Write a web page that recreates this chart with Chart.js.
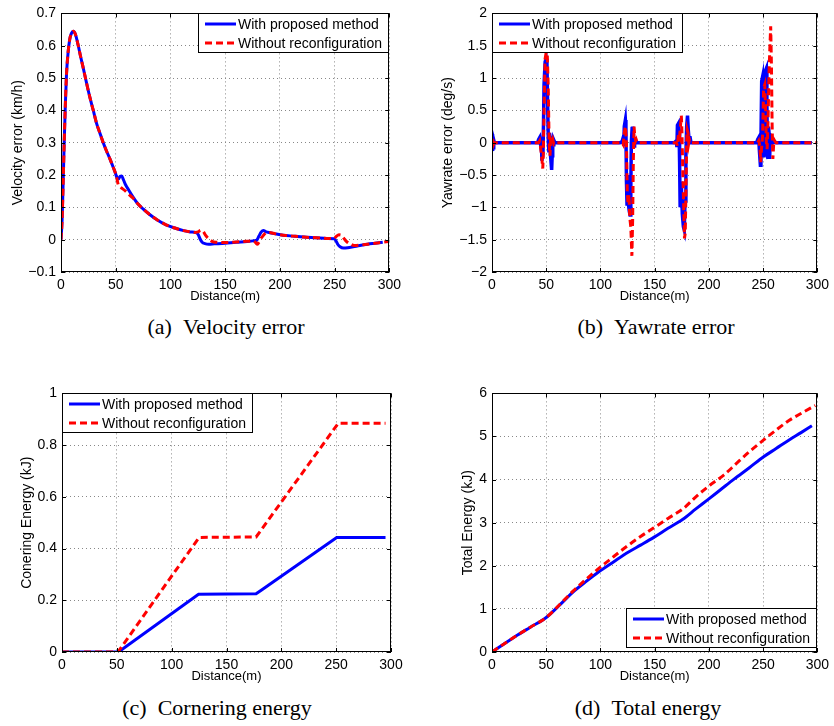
<!DOCTYPE html>
<html>
<head>
<meta charset="utf-8">
<script src="https://cdn.jsdelivr.net/npm/chart.js@4.4.1/dist/chart.umd.min.js"></script>
<style>
  body { margin: 0; background: #fff; width: 834px; height: 726px; position: relative; overflow: hidden; }
  canvas { position: absolute; }
  .cap {
    position: absolute; white-space: nowrap; transform: translateX(-50%);
    font-family: "Liberation Serif", "Times New Roman", serif; font-size: 22px; line-height: 24px; color: #000;
  }
</style>
</head>
<body>
<canvas id="velChart" width="400" height="308" style="left:6px;top:0"></canvas>
<canvas id="yawChart" width="398" height="308" style="left:436px;top:0"></canvas>
<canvas id="corChart" width="400" height="308" style="left:15px;top:380px"></canvas>
<canvas id="totChart" width="378" height="308" style="left:456px;top:380px"></canvas>

<div class="cap" style="left:226px;top:315px">(a)&ensp;Velocity error</div>
<div class="cap" style="left:656px;top:315px">(b)&ensp;Yawrate error</div>
<div class="cap" style="left:217px;top:696px">(c)&ensp;Cornering energy</div>
<div class="cap" style="left:648px;top:696px">(d)&ensp;Total energy</div>

<script>
// legend names
const seriesNames = ["With proposed method", "Without reconfiguration"];
const distTicks = [0, 50, 100, 150, 200, 250, 300];

// (a) velocity error
const velDistBlue = [0, 1, 2, 3, 4, 5, 6.5, 8, 9.5, 11.2, 13, 15.8, 18, 20.4, 23, 26.4, 29.5, 32.5, 35.5, 38.6, 41.5, 44.7, 47, 49.3, 51, 52.5, 54, 55.5, 57, 59, 62, 66, 70, 75, 81, 88, 96, 104, 112, 118, 124, 125.5, 127, 129, 131.5, 135, 140, 150, 160, 170, 177, 179, 181, 183, 185, 187, 190, 196, 203, 212, 222, 233, 243, 249.5, 251, 253, 255, 258, 262, 267, 273, 280, 287, 294];
const velErrBlue = [0, 0.06, 0.18, 0.31, 0.42, 0.51, 0.58, 0.62, 0.638, 0.645, 0.637, 0.6, 0.565, 0.53, 0.49, 0.44, 0.4, 0.36, 0.33, 0.3, 0.275, 0.25, 0.23, 0.21, 0.193, 0.188, 0.196, 0.197, 0.186, 0.17, 0.153, 0.131, 0.112, 0.095, 0.078, 0.061, 0.046, 0.036, 0.028, 0.024, 0.021, 0.015, 0.003, -0.008, -0.012, -0.014, -0.013, -0.011, -0.008, -0.006, -0.003, -0.001, 0.012, 0.024, 0.028, 0.025, 0.022, 0.018, 0.014, 0.011, 0.008, 0.006, 0.004, 0.003, -0.002, -0.015, -0.022, -0.026, -0.025, -0.022, -0.018, -0.014, -0.011, -0.008];
const velDistRed = [0, 1, 2, 3, 4, 5, 6.5, 8, 9.5, 11.2, 13, 15.8, 18, 20.4, 23, 26.4, 29.5, 32.5, 35.5, 38.6, 41.5, 44.7, 47, 49.3, 51, 52.3, 54, 56, 59, 62, 66, 70, 75, 81, 88, 96, 104, 112, 118, 122, 125, 128, 130, 132, 134.5, 138, 142, 150, 160, 170, 176, 178, 179.5, 181, 183, 185, 187.5, 190, 196, 203, 212, 222, 233, 243, 249.5, 251.5, 254, 256, 258.5, 261, 264, 268, 273, 280, 287, 294, 299];
const velErrRed = [0, 0.06, 0.18, 0.31, 0.42, 0.51, 0.58, 0.62, 0.638, 0.645, 0.637, 0.6, 0.565, 0.53, 0.49, 0.44, 0.4, 0.36, 0.33, 0.3, 0.275, 0.25, 0.23, 0.21, 0.19, 0.17, 0.163, 0.158, 0.15, 0.14, 0.128, 0.112, 0.095, 0.078, 0.061, 0.046, 0.036, 0.028, 0.024, 0.022, 0.024, 0.029, 0.025, 0.014, 0.004, -0.005, -0.008, -0.009, -0.007, -0.005, -0.004, -0.01, -0.014, -0.007, 0.005, 0.014, 0.021, 0.022, 0.018, 0.014, 0.011, 0.008, 0.006, 0.004, 0.003, 0.01, 0.015, 0.014, 0.004, -0.006, -0.013, -0.018, -0.017, -0.014, -0.011, -0.008, -0.006];

// (b) yawrate error
const yawDistBlue = [0, 0.4, 0.8, 1.2, 1.6, 2.2, 42, 43, 44, 45, 45.5, 46, 47, 47.5, 48, 49, 50, 50.7, 51.3, 52, 52.5, 53, 53.5, 54, 55, 55.5, 56, 56.5, 57, 58, 118, 120, 121, 121.5, 122, 123, 123.5, 124, 124.5, 125, 125.5, 126.5, 127.3, 128, 128.5, 129.2, 129.8, 130.5, 131, 131.5, 132, 133, 134, 168, 170, 170.5, 171, 172, 172.5, 173, 173.5, 174.5, 175.5, 176.5, 177.3, 178, 178.8, 179.5, 180.3, 181, 181.7, 182.5, 183.5, 244, 245, 246, 246.5, 247.5, 248, 248.7, 249.3, 249.8, 250.3, 250.8, 251.5, 252.3, 253, 253.5, 254, 254.5, 255, 255.5, 256, 256.5, 257.5, 259, 260, 262, 295];
const yawErrBlue = [0.13, -0.13, 0.1, -0.08, 0.04, 0, 0, 0.05, 0.08, -0.05, 0.06, -0.28, -0.15, 0.3, 0.9, 1.25, 1.3, 1.2, 0.6, 0, -0.15, 0.15, 0.1, -0.2, -0.42, -0.2, 0.05, -0.03, 0.04, 0, 0, 0.02, 0.08, -0.05, 0.25, 0.35, 0.2, -0.6, -0.95, -0.5, -0.9, -1.05, -1.12, -0.7, 0, 0.22, 0.25, 0.1, -0.05, 0.05, 0, 0.02, 0, 0, 0.03, -0.07, 0.27, 0.3, 0.2, -0.3, -1.0, -0.6, -1.1, -1.3, -1.35, -0.9, -0.2, 0.25, 0.42, 0.2, 0.05, 0.1, 0, 0, 0.05, 0.08, -0.1, -0.35, 0, 0.95, 1.0, 0.3, -0.2, 0.8, 1.05, 1.12, 1.15, 0.6, -0.2, -0.25, 0.25, 0.15, -0.25, 0, 0.05, 0, 0.02, 0, 0];
const yawDistRed = [0, 0.4, 0.8, 1.3, 2, 43, 44, 45, 46, 46.8, 47.3, 48, 49, 50, 51, 51.8, 52.5, 53, 53.5, 54, 55, 56, 57, 58, 120, 121, 122, 123, 124, 124.7, 125.5, 126.3, 127, 128, 129, 129.7, 130.3, 131, 131.7, 132.5, 133, 134, 170, 171, 172, 173, 174, 174.6, 175.2, 176, 176.8, 177.5, 178.2, 178.8, 179.5, 180, 180.8, 181.5, 182, 183, 245, 246, 247, 247.8, 248.5, 249.5, 250.5, 251.5, 252.3, 253, 253.7, 254.5, 255.5, 256.3, 257, 257.7, 258.3, 259, 259.5, 260, 261, 262, 300];
const yawErrRed = [0.05, -0.08, 0.06, -0.03, 0, 0, 0.03, -0.1, -0.25, -0.4, -0.2, 0.5, 1.3, 1.4, 1.35, 0.9, 0.2, -0.1, -0.2, 0.05, 0, 0.05, -0.02, 0, 0, -0.03, 0.15, 0.25, 0, -0.75, -0.95, -0.8, -1.15, -1.3, -1.75, -1.2, -0.3, 0.25, 0.1, 0.03, 0.05, 0, 0, -0.05, 0.15, 0.1, 0.3, 0.42, 0.15, -0.5, -1.0, -1.48, -1.4, -0.8, 0, 0.2, 0.15, 0, 0.05, 0, 0, 0.03, -0.05, -0.3, -0.1, 0.1, 0.85, 0.9, 0.5, 0, -0.1, 0.3, 1.1, 1.5, 1.8, 1.2, 0.3, -0.25, -0.1, 0.05, 0.02, 0, 0];

// (c) cornering energy
const corDistBlue = [0, 51.5, 124.5, 177, 182, 250.5, 295];
const corEnergyBlue = [0, 0, 0.223, 0.225, 0.24, 0.443, 0.443];
const corDistRed = [0, 51, 125, 177, 252, 295];
const corEnergyRed = [0, 0, 0.443, 0.445, 0.885, 0.885];

// (d) total energy
const totDistBlue = [0, 10, 21.4, 35, 50, 62, 74.2, 86, 98.5, 112, 125.9, 137, 149.2, 162.3, 176, 188, 198.8, 211, 223.2, 237, 250.5, 262, 274, 285, 295];
const totEnergyBlue = [0, 0.17, 0.36, 0.57, 0.8, 1.08, 1.38, 1.62, 1.86, 2.09, 2.32, 2.48, 2.66, 2.87, 3.08, 3.32, 3.53, 3.77, 4.01, 4.27, 4.53, 4.72, 4.92, 5.09, 5.25];
const totDistRed = [0, 10, 21.4, 35, 50, 62, 74.2, 86, 98.5, 112, 125.9, 137, 149.2, 162.3, 176.5, 188, 200.9, 214, 225.2, 237, 250.5, 262, 273.8, 286, 298.1];
const totEnergyRed = [0, 0.17, 0.36, 0.57, 0.8, 1.09, 1.4, 1.67, 1.94, 2.21, 2.48, 2.68, 2.88, 3.1, 3.33, 3.6, 3.87, 4.11, 4.37, 4.64, 4.92, 5.15, 5.37, 5.55, 5.72];

Chart.defaults.font.family = '"Liberation Sans", Arial, sans-serif';
Chart.defaults.font.size = 14;
Chart.defaults.color = "#000";

function pts(xs, ys) {
  return xs.map((x, i) => ({ x: x, y: ys[i] }));
}

function fmt(v) {
  return String(Math.round(v * 100) / 100).replace("-", "\u2212");
}

// box round the axes, inward ticks, and the boxed legend
const frame = {
  id: "frame",
  afterDatasetsDraw(chart, args, opts) {
    const { ctx, chartArea: a, scales } = chart;
    ctx.save();
    ctx.strokeStyle = "#000";
    ctx.lineWidth = 1;
    ctx.setLineDash([]);
    ctx.strokeRect(Math.round(a.left) + 0.5, Math.round(a.top) + 0.5, Math.round(a.width) - 1, Math.round(a.height) - 1);
    ctx.beginPath();
    scales.x.ticks.forEach(t => {
      const px = Math.round(scales.x.getPixelForValue(t.value)) + 0.5;
      ctx.moveTo(px, a.bottom); ctx.lineTo(px, a.bottom - 4);
      ctx.moveTo(px, a.top); ctx.lineTo(px, a.top + 4);
    });
    scales.y.ticks.forEach(t => {
      const py = Math.round(scales.y.getPixelForValue(t.value)) + 0.5;
      ctx.moveTo(a.left, py); ctx.lineTo(a.left + 4, py);
      ctx.moveTo(a.right, py); ctx.lineTo(a.right - 4, py);
    });
    ctx.stroke();

    // legend
    ctx.font = '14px "Liberation Sans", Arial, sans-serif';
    const ds = chart.data.datasets;
    const tw = Math.max(...ds.map(d => ctx.measureText(d.label).width));
    const w = Math.round(tw + 47), h = 40;
    const x = opts.corner.includes("e") ? Math.round(a.right) - w : Math.round(a.left);
    const y = opts.corner.includes("s") ? Math.round(a.bottom) - 4 - h : Math.round(a.top);
    ctx.fillStyle = "#fff";
    ctx.fillRect(x, y, w, h);
    ctx.strokeRect(x + 0.5, y + 0.5, w - 1, h - 1);
    ds.forEach((d, i) => {
      const ry = y + 11 + i * 19;
      ctx.strokeStyle = d.borderColor;
      ctx.lineWidth = 3;
      ctx.setLineDash(d.borderDash || []);
      ctx.beginPath();
      ctx.moveTo(x + 7, ry); ctx.lineTo(x + 38, ry);
      ctx.stroke();
      ctx.fillStyle = "#000";
      ctx.textBaseline = "middle";
      ctx.fillText(d.label, x + 40, ry + 1);
    });
    ctx.restore();
  }
};

function makeChart(id, cfg) {
  return new Chart(document.getElementById(id), {
    type: "line",
    data: {
      datasets: [
        { label: seriesNames[0], data: pts(cfg.blueX, cfg.blueY), borderColor: "#0000ff", borderWidth: cfg.blueWidth || 3, order: 1 },
        { label: seriesNames[1], data: pts(cfg.redX, cfg.redY), borderColor: "#ff0000", borderWidth: 3, borderDash: [7, 4], order: 0 }
      ]
    },
    options: {
      responsive: false,
      animation: false,
      layout: { padding: cfg.pad },
      elements: {
        point: { radius: 0 },
        line: { cubicInterpolationMode: cfg.smooth ? "monotone" : "default", borderCapStyle: "butt" }
      },
      plugins: { legend: { display: false }, tooltip: { enabled: false }, frame: { corner: cfg.corner } },
      scales: {
        x: {
          type: "linear", min: 0, max: 300,
          afterBuildTicks: s => { s.ticks = distTicks.map(v => ({ value: v })); },
          ticks: { padding: 5, maxRotation: 0, autoSkip: false },
          grid: { color: "#888", drawTicks: false },
          border: { display: false, dash: [1, 3] },
          title: { display: true, text: "Distance(m)", font: { size: 13 }, padding: { top: 0, bottom: 4 } },
          afterFit: s => { s.height = 36; }
        },
        y: {
          min: cfg.yMin, max: cfg.yMax,
          ticks: { stepSize: cfg.yStep, padding: 5, autoSkip: false, callback: fmt },
          grid: { color: "#888", drawTicks: false },
          border: { display: false, dash: [1, 3] },
          title: { display: true, text: cfg.yTitle, font: { size: 14 }, padding: { top: 4, bottom: 0 } },
          afterFit: s => { s.width = cfg.yWidth; }
        }
      }
    },
    plugins: [frame]
  });
}

makeChart("velChart", {
  blueX: velDistBlue, blueY: velErrBlue, redX: velDistRed, redY: velErrRed,
  yMin: -0.1, yMax: 0.7, yStep: 0.1, yTitle: "Velocity error (km/h)",
  yWidth: 55, pad: { left: 0, top: 12, right: 16, bottom: 0 }, corner: "ne", smooth: true
});
makeChart("yawChart", {
  blueX: yawDistBlue, blueY: yawErrBlue, redX: yawDistRed, redY: yawErrRed,
  yMin: -2, yMax: 2, yStep: 0.5, yTitle: "Yawrate error (deg/s)",
  yWidth: 56, pad: { left: 0, top: 13, right: 13, bottom: 0 }, corner: "nw", smooth: false, blueWidth: 3.5
});
makeChart("corChart", {
  blueX: corDistBlue, blueY: corEnergyBlue, redX: corDistRed, redY: corEnergyRed,
  yMin: 0, yMax: 1, yStep: 0.2, yTitle: "Conering Energy (kJ)",
  yWidth: 47, pad: { left: 0, top: 13, right: 24, bottom: 0 }, corner: "nw", smooth: false
});
makeChart("totChart", {
  blueX: totDistBlue, blueY: totEnergyBlue, redX: totDistRed, redY: totEnergyRed,
  yMin: 0, yMax: 6, yStep: 1, yTitle: "Total Energy (kJ)",
  yWidth: 36, pad: { left: 0, top: 13, right: 13, bottom: 0 }, corner: "se", smooth: true
});
</script>
</body>
</html>
